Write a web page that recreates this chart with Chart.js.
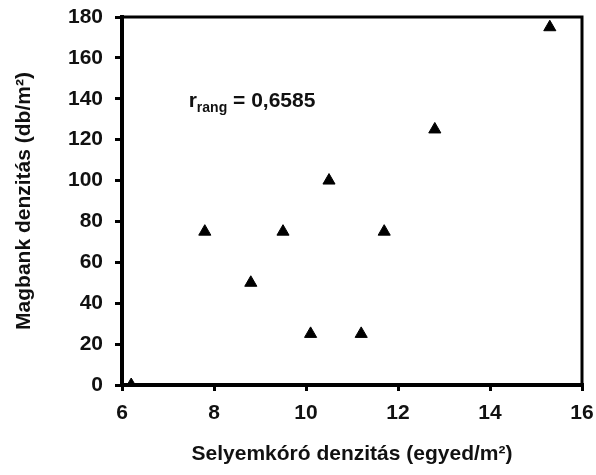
<!DOCTYPE html>
<html>
<head>
<meta charset="utf-8">
<script src="https://cdn.jsdelivr.net/npm/chart.js@4.4.0/dist/chart.umd.min.js"></script>
<style>
  html, body { margin: 0; padding: 0; background: #fff; }
  #wrap { width: 596px; height: 475px; position: relative; }
</style>
</head>
<body>
<div id="wrap"><canvas id="myChart"></canvas></div>
<script>
// selyemkoro density (x) vs seed bank density (y)
const xVals = [6.2, 7.8, 8.8, 9.5, 10.1, 10.5, 11.2, 11.7, 12.8, 15.3];
const yVals = [0, 75, 50, 75, 25, 100, 25, 75, 125, 175];
const xTitle = 'Selyemkóró denzitás (egyed/m²)';
const yTitle = 'Magbank denzitás (db/m²)';
const rLabel = ['r', 'rang', ' = 0,6585'];
const rPos = [7.45, 139];

const FONT = "'Liberation Sans', Arial, sans-serif";
const ink = '#111';

const boxPlugin = {
  id: 'box',
  afterDraw(chart) {
    const c = chart.ctx, a = chart.chartArea;
    c.save();
    c.strokeStyle = '#000';
    c.lineWidth = 3;
    c.beginPath();
    c.moveTo(a.left, a.top);
    c.lineTo(a.right, a.top);
    c.lineTo(a.right, a.bottom);
    c.stroke();
    // correlation label
    const x = chart.scales.x.getPixelForValue(rPos[0]);
    const y = chart.scales.y.getPixelForValue(rPos[1]);
    c.fillStyle = ink;
    c.textBaseline = 'middle';
    c.textAlign = 'left';
    c.font = 'bold 21px ' + FONT;
    c.fillText(rLabel[0], x, y);
    let w = c.measureText(rLabel[0]).width;
    c.font = 'bold 14px ' + FONT;
    c.fillText(rLabel[1], x + w, y + 7);
    w += c.measureText(rLabel[1]).width;
    c.font = 'bold 21px ' + FONT;
    c.fillText(rLabel[2], x + w, y);
    c.restore();
  }
};

const ctx = document.getElementById('myChart').getContext('2d');
let myChart = new Chart(ctx, {
  type: 'scatter',
  data: {
    datasets: [{
      data: xVals.map((v, i) => ({ x: v, y: yVals[i] })),
      pointStyle: 'triangle',
      pointRadius: 7,
      backgroundColor: '#000',
      borderColor: '#000',
      borderWidth: 1
    }]
  },
  options: {
    responsive: true,
    maintainAspectRatio: false,
    animation: false,
    layout: { padding: { top: 17, right: 14, left: 0, bottom: 8 } },
    plugins: { legend: { display: false }, tooltip: { enabled: false } },
    scales: {
      x: {
        type: 'linear',
        min: 6, max: 16,
        ticks: { stepSize: 2, color: ink, padding: 10, font: { family: FONT, size: 21, weight: 'bold' } },
        grid: { drawOnChartArea: false, drawTicks: true, tickLength: 6, lineWidth: 3, color: '#000' },
        border: { display: true, width: 4, color: '#000' },
        title: { display: true, text: xTitle, color: ink, padding: { top: 0, bottom: 0 }, font: { family: FONT, size: 21, weight: 'bold' } },
        afterFit(s) { s.height = 82; s.paddingLeft = 0; s.paddingRight = 0; }
      },
      y: {
        min: 0, max: 180,
        ticks: { stepSize: 20, color: ink, padding: 12, font: { family: FONT, size: 21, weight: 'bold' } },
        grid: { drawOnChartArea: false, drawTicks: true, tickLength: 7, lineWidth: 3, color: '#000' },
        border: { display: true, width: 4, color: '#000' },
        title: { display: true, text: yTitle, color: ink, padding: { top: 12, bottom: 0 }, font: { family: FONT, size: 21, weight: 'bold' } },
        afterFit(s) { s.width = 122; s.paddingTop = 0; s.paddingBottom = 0; }
      }
    }
  },
  plugins: [boxPlugin]
});
</script>
</body>
</html>
